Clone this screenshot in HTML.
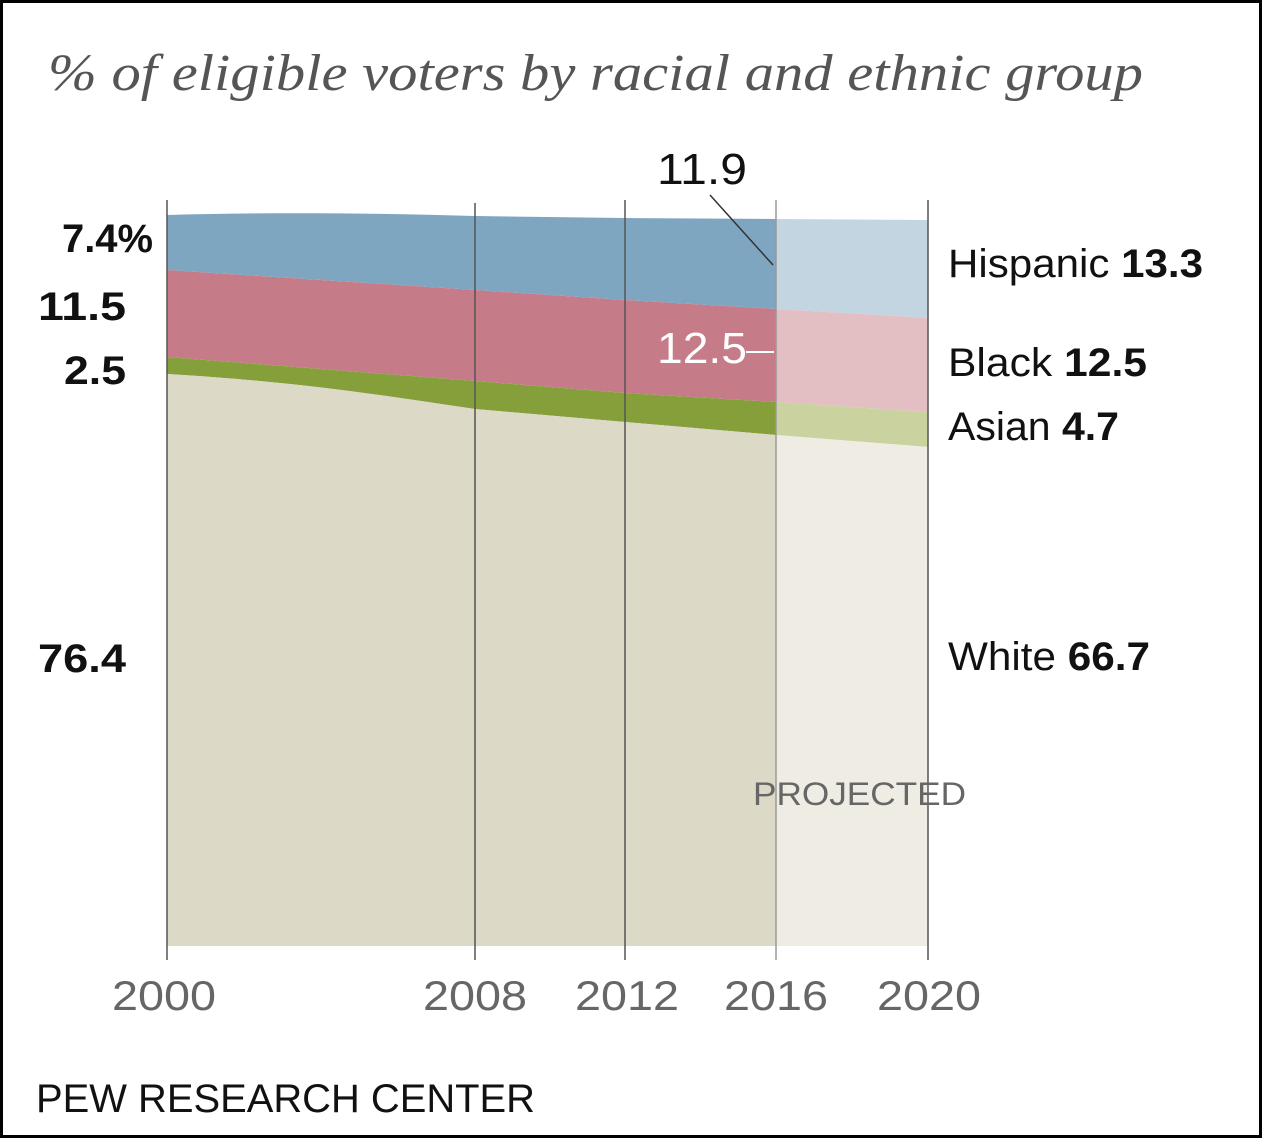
<!DOCTYPE html>
<html><head><style>
html,body{margin:0;padding:0;background:#fff}
svg{display:block}
</style></head><body>
<svg width="1262" height="1138" viewBox="0 0 1262 1138" xmlns="http://www.w3.org/2000/svg">
<rect x="1.5" y="1.5" width="1259" height="1135" fill="#fff" stroke="#000" stroke-width="3"/>
<text x="48" y="90" font-family="Liberation Serif, serif" font-style="italic" font-size="52" fill="#555" textLength="1095" lengthAdjust="spacingAndGlyphs">% of eligible voters by racial and ethnic group</text>
<path d="M167,215 C270,212 370,213 475,216 L625,218 L776,219 L776,309 L625,300 L475,290 L167,270 Z" fill="#7fa6c0"/>
<path d="M167,270 L475,290 L625,300 L776,309 L776,402 L625,393 L475,381 L167,357 Z" fill="#c67b88"/>
<path d="M167,357 L475,381 L625,393 L776,402 L776,435 L625,422 L475,409 C380,395 300,382 167,374 Z" fill="#85a03a"/>
<path d="M167,374 C300,382 380,395 475,409 L625,422 L776,435 L776,946 L167,946 Z" fill="#dcd9c7"/>
<path d="M776,219 L928,220 L928,318 L776,309 Z" fill="#c4d5e2"/>
<path d="M776,309 L928,318 L928,412 L776,402 Z" fill="#e3bec3"/>
<path d="M776,402 L928,412 L928,447 L776,435 Z" fill="#cad29f"/>
<path d="M776,435 L928,447 L928,946 L776,946 Z" fill="#efece4"/>
<g stroke="#555" stroke-width="1.5">
<line x1="167" y1="200" x2="167" y2="960"/>
<line x1="475" y1="203" x2="475" y2="960"/>
<line x1="625" y1="200" x2="625" y2="960"/>
<line x1="776" y1="200" x2="776" y2="960" stroke="#999"/>
<line x1="928" y1="200" x2="928" y2="960"/>
<line x1="710" y1="195" x2="773" y2="265" stroke="#333"/>
</g>
<line x1="746" y1="352" x2="774" y2="352" stroke="#fff" stroke-width="2"/>
<g font-family="Liberation Sans, sans-serif" font-size="38">
<text x="657" y="184" font-size="44" fill="#111" textLength="90" lengthAdjust="spacingAndGlyphs">11.9</text>
<text x="657" y="363" font-size="44" fill="#fff" textLength="90" lengthAdjust="spacingAndGlyphs">12.5</text>
<g font-weight="bold" font-size="40" fill="#111">
<text x="62" y="252" textLength="91" lengthAdjust="spacingAndGlyphs">7.4%</text>
<text x="38" y="320" textLength="88" lengthAdjust="spacingAndGlyphs">11.5</text>
<text x="64" y="384" textLength="62" lengthAdjust="spacingAndGlyphs">2.5</text>
<text x="38" y="672" textLength="88" lengthAdjust="spacingAndGlyphs">76.4</text>
</g>
<g fill="#111" font-size="40">
<text x="948" y="277" textLength="255" lengthAdjust="spacingAndGlyphs">Hispanic <tspan font-weight="bold">13.3</tspan></text>
<text x="948" y="376" textLength="199" lengthAdjust="spacingAndGlyphs">Black <tspan font-weight="bold">12.5</tspan></text>
<text x="948" y="440" textLength="171" lengthAdjust="spacingAndGlyphs">Asian <tspan font-weight="bold">4.7</tspan></text>
<text x="948" y="670" textLength="202" lengthAdjust="spacingAndGlyphs">White <tspan font-weight="bold">66.7</tspan></text>
</g>
<text x="753" y="805" font-size="32" fill="#666" textLength="213" lengthAdjust="spacingAndGlyphs">PROJECTED</text>
<g fill="#666" font-size="42">
<text x="112" y="1010" textLength="104" lengthAdjust="spacingAndGlyphs">2000</text>
<text x="423" y="1010" textLength="104" lengthAdjust="spacingAndGlyphs">2008</text>
<text x="575" y="1010" textLength="104" lengthAdjust="spacingAndGlyphs">2012</text>
<text x="724" y="1010" textLength="104" lengthAdjust="spacingAndGlyphs">2016</text>
<text x="877" y="1010" textLength="104" lengthAdjust="spacingAndGlyphs">2020</text>
</g>
<text x="36" y="1112" font-size="40" fill="#111" textLength="499" lengthAdjust="spacingAndGlyphs">PEW RESEARCH CENTER</text>
</g>
</svg>
</body></html>
